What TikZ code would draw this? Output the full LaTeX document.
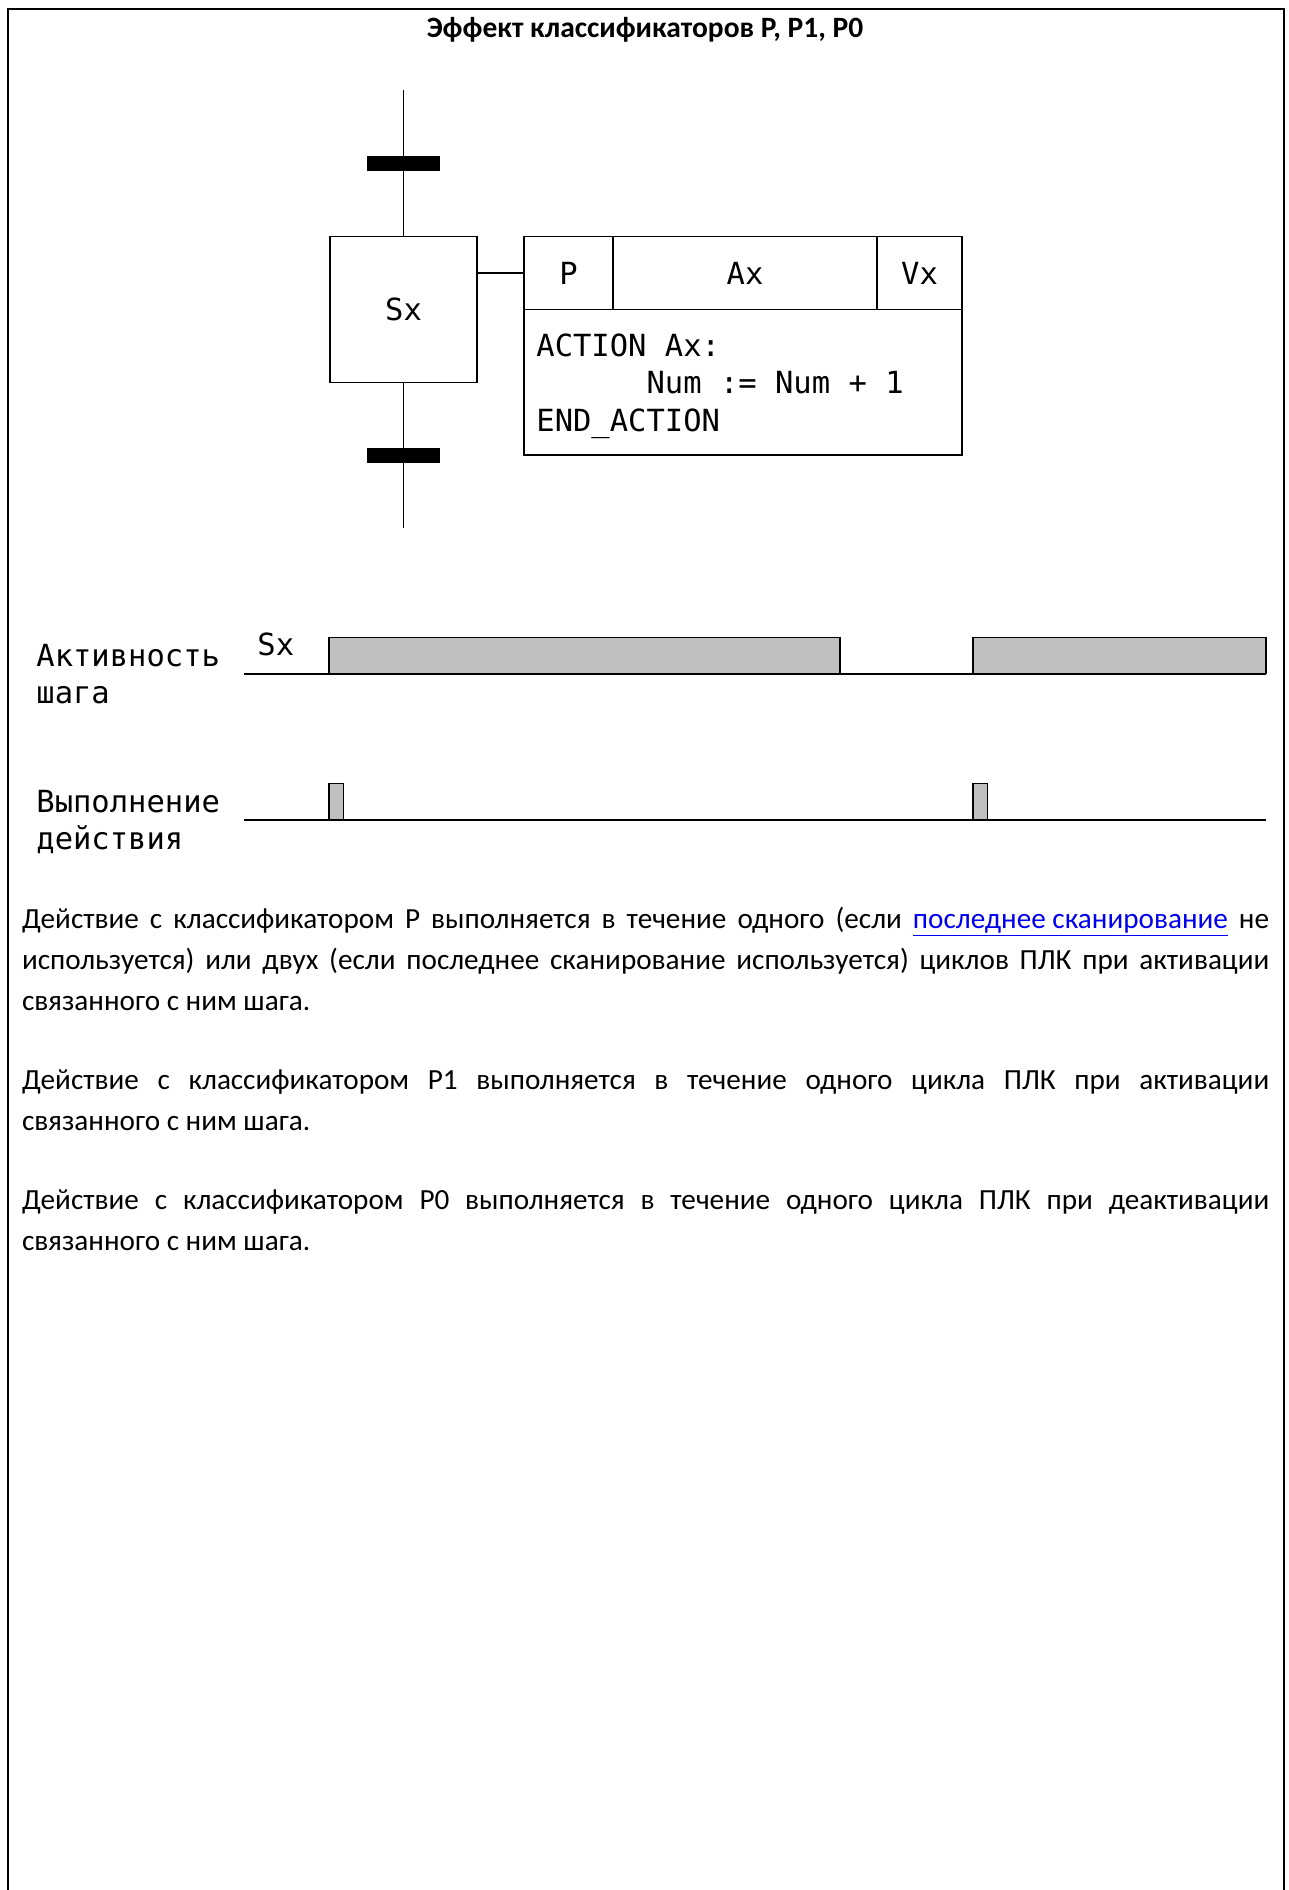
\documentclass[tikz,border=0pt]{standalone}
\usepackage{fontspec}
\setmainfont{Carlito}
\newfontfamily\monofont{DejaVu Sans Mono}
\usetikzlibrary{positioning}
\definecolor{signal}{RGB}{192,192,192}
\definecolor{link}{RGB}{0,0,238}
\tikzset{stepbox/.style={draw,line width=.8pt,minimum width=73.5pt,minimum height=73pt,inner sep=0pt,outer sep=0pt,font=\monofont\fontsize{15.25}{18.5}\selectfont},
bar/.style={fill=black,minimum width=36.5pt,minimum height=7.5pt,inner sep=0pt},
cell/.style={draw,line width=.8pt,minimum height=36.5pt,inner sep=0pt,outer sep=0pt,font=\monofont\fontsize{15.25}{18.5}\selectfont},
code/.style={align=left,inner sep=0pt,anchor=base west,font=\monofont\fontsize{15.25}{18.75}\selectfont},
lab/.style={align=left,inner sep=0pt,anchor=base west,font=\monofont\fontsize{15.25}{18.5}\selectfont},
txt/.style={text width=623.5pt,align=justify,inner sep=0pt,anchor=base west,font=\fontsize{14.6}{20.5}\selectfont},
sig/.style={draw,line width=.8pt,fill=signal}}
\begin{document}
\begin{tikzpicture}[x=0.5pt,y=-0.5pt]
\useasboundingbox (0,0) rectangle (1289,1890);
\draw[line width=1pt] (7.5,1890) |- (1283.5,8.8) -- (1283.5,1890);
\node[font=\bfseries\fontsize{14.75}{18}\selectfont,anchor=base,inner sep=0pt] (title) at (645,37.3) {Эффект классификаторов P, P1, P0};
% step with transitions
\node[stepbox] (sx) at (403.5,309.5) {Sx};
\coordinate (in) at (403.5,90);
\coordinate (out) at (403.5,528);
\draw[line width=.8pt] (in) -- (sx.north);
\draw[line width=.8pt] (sx.south) -- (out);
\node[bar] (t1) at (403.5,163.5) {};
\node[bar] (t2) at (403.5,455) {};
% action block
\node[cell,minimum width=44.5pt,anchor=north west] (qual) at (524,236.5) {P};
\node[cell,minimum width=132pt,right=0pt of qual] (name) {Ax};
\node[cell,minimum width=42.5pt,right=0pt of name] (ind) {Vx};
\node[draw,line width=.8pt,minimum width=219pt,minimum height=72.75pt,inner sep=0pt,outer sep=0pt,anchor=north west] (body) at (qual.south west) {};
\draw[line width=.8pt] (qual.west -| sx.east) -- (qual.west);
\node[code] (prog) at (536,431) {ACTION Ax:\\\phantom{ACTION}Num := Num + 1\\END\_ACTION};
% timing
\node[lab] (act) at (36,703.5) {Активность\\шага};
\node[lab] (sxl) at (257,655) {Sx};
\node[lab] (exe) at (36,849) {Выполнение\\действия};
\coordinate (a0) at (244,673.5);
\coordinate (a1) at (1266,673.5);
\coordinate (e0) at (244,820);
\coordinate (e1) at (1266,820);
\draw[line width=1pt] (a0) -- (a1);
\draw[line width=1pt] (e0) -- (e1);
\draw[sig] (329,673.5) rectangle (840,637.5);
\draw[sig] (973,673.5) rectangle (1266,637.5);
\foreach \t in {329,973} {\draw[sig] (\t,820) rectangle ++(14.5,-36.5);}
% text
\node[txt] (p) at (21.7,928) {Действие с классификатором P выполняется в течение одного (если \textcolor{link}{\underline{последнее сканирование}} не\linebreak используется) или двух (если последнее сканирование используется) циклов ПЛК при активации\linebreak связанного с ним шага.};
\node[txt] (p1) at (21.7,1089.6) {Действие с классификатором P1 выполняется в течение одного цикла ПЛК при активации\linebreak связанного с ним шага.};
\node[txt] (p0) at (21.7,1209) {Действие с классификатором P0 выполняется в течение одного цикла ПЛК при деактивации\linebreak связанного с ним шага.};
\end{tikzpicture}
\end{document}
